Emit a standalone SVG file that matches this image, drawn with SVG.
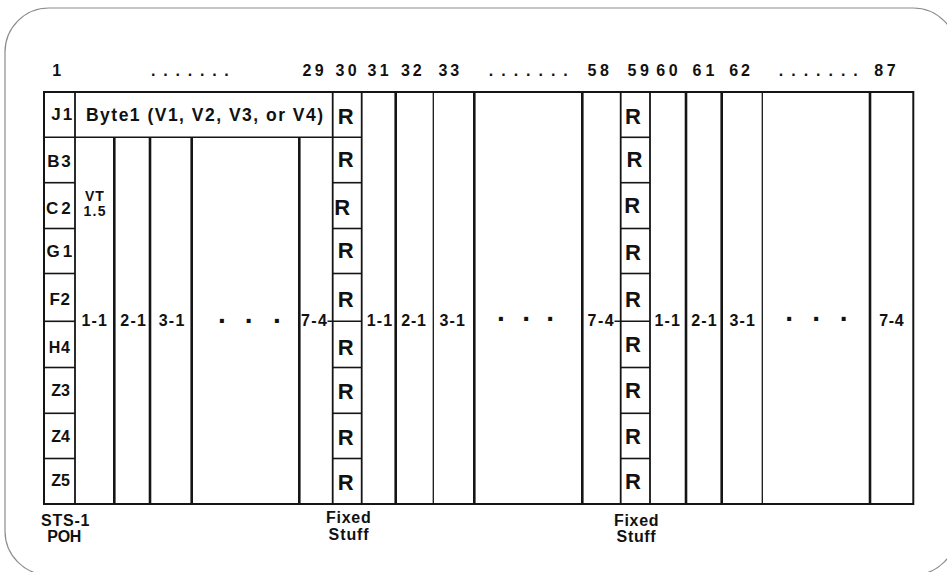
<svg xmlns="http://www.w3.org/2000/svg" width="947" height="572" viewBox="0 0 947 572">
<style>
text{font-family:"Liberation Sans",Arial,Helvetica,sans-serif;font-weight:bold;fill:#111}
.num{font-size:16px}
.row{font-size:16px}
.rowb{font-size:17px}
.r{font-size:22px}
.lab{font-size:16px}
.vt{font-size:14px}
.big{font-size:28px}
.byte{font-size:17.5px}
line{stroke:#151515;fill:none}
.tk{stroke-width:2.6}
.md{stroke-width:1.8}
.tn{stroke-width:1.3}
.hz{stroke-width:1.6}
</style>
<rect x="0" y="0" width="947" height="572" fill="#fff"/>
<rect id="border" x="5" y="8" width="952" height="567" rx="44" ry="44" fill="#fff" stroke="#8c8c8c" stroke-width="1.2"/>

<g id="header">
<text class="num" x="52.3" y="76">1</text>
<text class="num" x="151.1" y="76" textLength="77.7" lengthAdjust="spacing">.......</text>
<text class="num" x="302.6" y="76" textLength="21" lengthAdjust="spacing">29</text>
<text class="num" x="335.6" y="76" textLength="21" lengthAdjust="spacing">30</text>
<text class="num" x="367.4" y="76" textLength="21.3" lengthAdjust="spacing">31</text>
<text class="num" x="401" y="76" textLength="20.6" lengthAdjust="spacing">32</text>
<text class="num" x="438.6" y="76" textLength="20.6" lengthAdjust="spacing">33</text>
<text class="num" x="488.8" y="76" textLength="79" lengthAdjust="spacing">.......</text>
<text class="num" x="587.6" y="76" textLength="21.4" lengthAdjust="spacing">58</text>
<text class="num" x="627.6" y="76" textLength="21.4" lengthAdjust="spacing">59</text>
<text class="num" x="656.3" y="76" textLength="21.4" lengthAdjust="spacing">60</text>
<text class="num" x="692.6" y="76" textLength="21.8" lengthAdjust="spacing">61</text>
<text class="num" x="729.3" y="76" textLength="20.6" lengthAdjust="spacing">62</text>
<text class="num" x="778.8" y="76" textLength="79" lengthAdjust="spacing">.......</text>
<text class="num" x="874.3" y="76" textLength="21.4" lengthAdjust="spacing">87</text>
</g>

<g id="connectors">
<rect x="44" y="92" width="869.3" height="412" fill="none" stroke="#151515" stroke-width="2"/>
<line class="hz" x1="44" y1="137.3" x2="361.7" y2="137.3"/>
<line class="md" x1="75" y1="92" x2="75" y2="504"/>
<line class="hz" x1="44" y1="182.7" x2="75" y2="182.7"/>
<line class="hz" x1="44" y1="228.5" x2="75" y2="228.5"/>
<line class="hz" x1="44" y1="273.5" x2="75" y2="273.5"/>
<line class="hz" x1="44" y1="321.3" x2="75" y2="321.3"/>
<line class="hz" x1="44" y1="367.5" x2="75" y2="367.5"/>
<line class="hz" x1="44" y1="413.3" x2="75" y2="413.3"/>
<line class="hz" x1="44" y1="458.5" x2="75" y2="458.5"/>
<line class="tk" x1="114.3" y1="137.3" x2="114.3" y2="504"/>
<line class="tk" x1="150" y1="137.3" x2="150" y2="504"/>
<line class="tk" x1="191.7" y1="137.3" x2="191.7" y2="504"/>
<line class="tk" x1="299.3" y1="137.3" x2="299.3" y2="504"/>
<line class="md" x1="332.7" y1="92" x2="332.7" y2="504"/>
<line class="md" x1="361.7" y1="92" x2="361.7" y2="504"/>
<line class="hz" x1="332.7" y1="182.7" x2="361.7" y2="182.7"/>
<line class="hz" x1="332.7" y1="228.5" x2="361.7" y2="228.5"/>
<line class="hz" x1="332.7" y1="273.5" x2="361.7" y2="273.5"/>
<line class="hz" x1="327.5" y1="321.3" x2="361.7" y2="321.3"/>
<line class="hz" x1="332.7" y1="367.5" x2="361.7" y2="367.5"/>
<line class="hz" x1="332.7" y1="413.3" x2="361.7" y2="413.3"/>
<line class="hz" x1="332.7" y1="458.5" x2="361.7" y2="458.5"/>
<line class="tk" x1="395.7" y1="92" x2="395.7" y2="504"/>
<line class="tn" x1="433.3" y1="92" x2="433.3" y2="504"/>
<line class="tk" x1="474.3" y1="92" x2="474.3" y2="504"/>
<line class="tk" x1="582.3" y1="92" x2="582.3" y2="504"/>
<line class="md" x1="620.7" y1="92" x2="620.7" y2="504"/>
<line class="md" x1="650" y1="92" x2="650" y2="504"/>
<line class="hz" x1="620.7" y1="137.3" x2="650" y2="137.3"/>
<line class="hz" x1="620.7" y1="182.7" x2="650" y2="182.7"/>
<line class="hz" x1="620.7" y1="228.5" x2="650" y2="228.5"/>
<line class="hz" x1="620.7" y1="273.5" x2="650" y2="273.5"/>
<line class="hz" x1="614.5" y1="321.3" x2="650" y2="321.3"/>
<line class="hz" x1="620.7" y1="367.5" x2="650" y2="367.5"/>
<line class="hz" x1="620.7" y1="413.3" x2="650" y2="413.3"/>
<line class="hz" x1="620.7" y1="458.5" x2="650" y2="458.5"/>
<line class="tk" x1="686" y1="92" x2="686" y2="504"/>
<line class="tk" x1="721.7" y1="92" x2="721.7" y2="504"/>
<line class="tn" x1="762.3" y1="92" x2="762.3" y2="504"/>
<line class="tk" x1="870" y1="92" x2="870" y2="504"/>
</g>

<g id="poh">
<text class="rowb" x="51.2" y="120" textLength="20.9" lengthAdjust="spacing">J1</text>
<text class="rowb" x="47.2" y="167.3" textLength="23.4" lengthAdjust="spacing">B3</text>
<text class="rowb" x="46" y="214.3" textLength="24.6" lengthAdjust="spacing">C2</text>
<text class="rowb" x="46.6" y="256.7" textLength="25.5" lengthAdjust="spacing">G1</text>
<text class="rowb" x="49.4" y="305" textLength="20.6" lengthAdjust="spacing">F2</text>
<text class="row" x="48.8" y="353.3" textLength="21.2" lengthAdjust="spacing">H4</text>
<text class="row" x="51.3" y="396" textLength="18.7" lengthAdjust="spacing">Z3</text>
<text class="row" x="51.3" y="441.7" textLength="18.7" lengthAdjust="spacing">Z4</text>
<text class="row" x="51.3" y="485.7" textLength="18.7" lengthAdjust="spacing">Z5</text>
<text class="lab" x="41" y="526" textLength="48.4" lengthAdjust="spacing">STS-1</text>
<text class="lab" x="47.2" y="541.7" textLength="34.2" lengthAdjust="spacing">POH</text>
</g>

<g id="byte1">
<text class="byte" x="86" y="121" textLength="237" lengthAdjust="spacing">Byte1 (V1, V2, V3, or V4)</text>
</g>

<g id="group1">
<text class="vt" x="85" y="201" textLength="18.7" lengthAdjust="spacing">VT</text>
<text class="vt" x="83.5" y="215.5" textLength="22" lengthAdjust="spacing">1.5</text>
<text class="lab" x="81.6" y="326" textLength="25.2" lengthAdjust="spacing">1-1</text>
<text class="lab" x="120.2" y="326" textLength="25.8" lengthAdjust="spacing">2-1</text>
<text class="lab" x="158.7" y="326" textLength="25.6" lengthAdjust="spacing">3-1</text>
<text class="big" x="218 244.7 273" y="322.7">...</text>
<text class="lab" x="301" y="326" textLength="26" lengthAdjust="spacing">7-4</text>
</g>

<g id="fixed1">
<text class="r" x="337.8" y="124">R</text>
<text class="r" x="337.8" y="166.7">R</text>
<text class="r" x="334.3" y="215">R</text>
<text class="r" x="337.8" y="258.3">R</text>
<text class="r" x="337.8" y="306.7">R</text>
<text class="r" x="337.8" y="355">R</text>
<text class="r" x="337.8" y="399.3">R</text>
<text class="r" x="337.8" y="445">R</text>
<text class="r" x="337.8" y="490">R</text>
<text class="lab" x="326" y="523" textLength="44.8" lengthAdjust="spacing">Fixed</text>
<text class="lab" x="328.6" y="540" textLength="40" lengthAdjust="spacing">Stuff</text>
</g>

<g id="group2">
<text class="lab" x="366.7" y="326" textLength="25.5" lengthAdjust="spacing">1-1</text>
<text class="lab" x="401.2" y="326" textLength="24.8" lengthAdjust="spacing">2-1</text>
<text class="lab" x="439.4" y="326" textLength="25.5" lengthAdjust="spacing">3-1</text>
<text class="big" x="497 522.3 546.3" y="320.7">...</text>
<text class="lab" x="587.6" y="326" textLength="26" lengthAdjust="spacing">7-4</text>
</g>

<g id="fixed2">
<text class="r" x="625" y="124">R</text>
<text class="r" x="626.6" y="166.7">R</text>
<text class="r" x="624.3" y="213.3">R</text>
<text class="r" x="625" y="260">R</text>
<text class="r" x="625" y="306.7">R</text>
<text class="r" x="625" y="351.7">R</text>
<text class="r" x="625" y="398.3">R</text>
<text class="r" x="625" y="444">R</text>
<text class="r" x="625" y="489.3">R</text>
<text class="lab" x="614" y="526" textLength="44.5" lengthAdjust="spacing">Fixed</text>
<text class="lab" x="616.6" y="541.7" textLength="39" lengthAdjust="spacing">Stuff</text>
</g>

<g id="group3">
<text class="lab" x="654.4" y="326" textLength="25.5" lengthAdjust="spacing">1-1</text>
<text class="lab" x="691.2" y="326" textLength="25.5" lengthAdjust="spacing">2-1</text>
<text class="lab" x="729.4" y="326" textLength="25.5" lengthAdjust="spacing">3-1</text>
<text class="big" x="785.3 812.3 839.7" y="321">...</text>
<text class="lab" x="879.3" y="326" textLength="24.3" lengthAdjust="spacing">7-4</text>
</g>
</svg>
